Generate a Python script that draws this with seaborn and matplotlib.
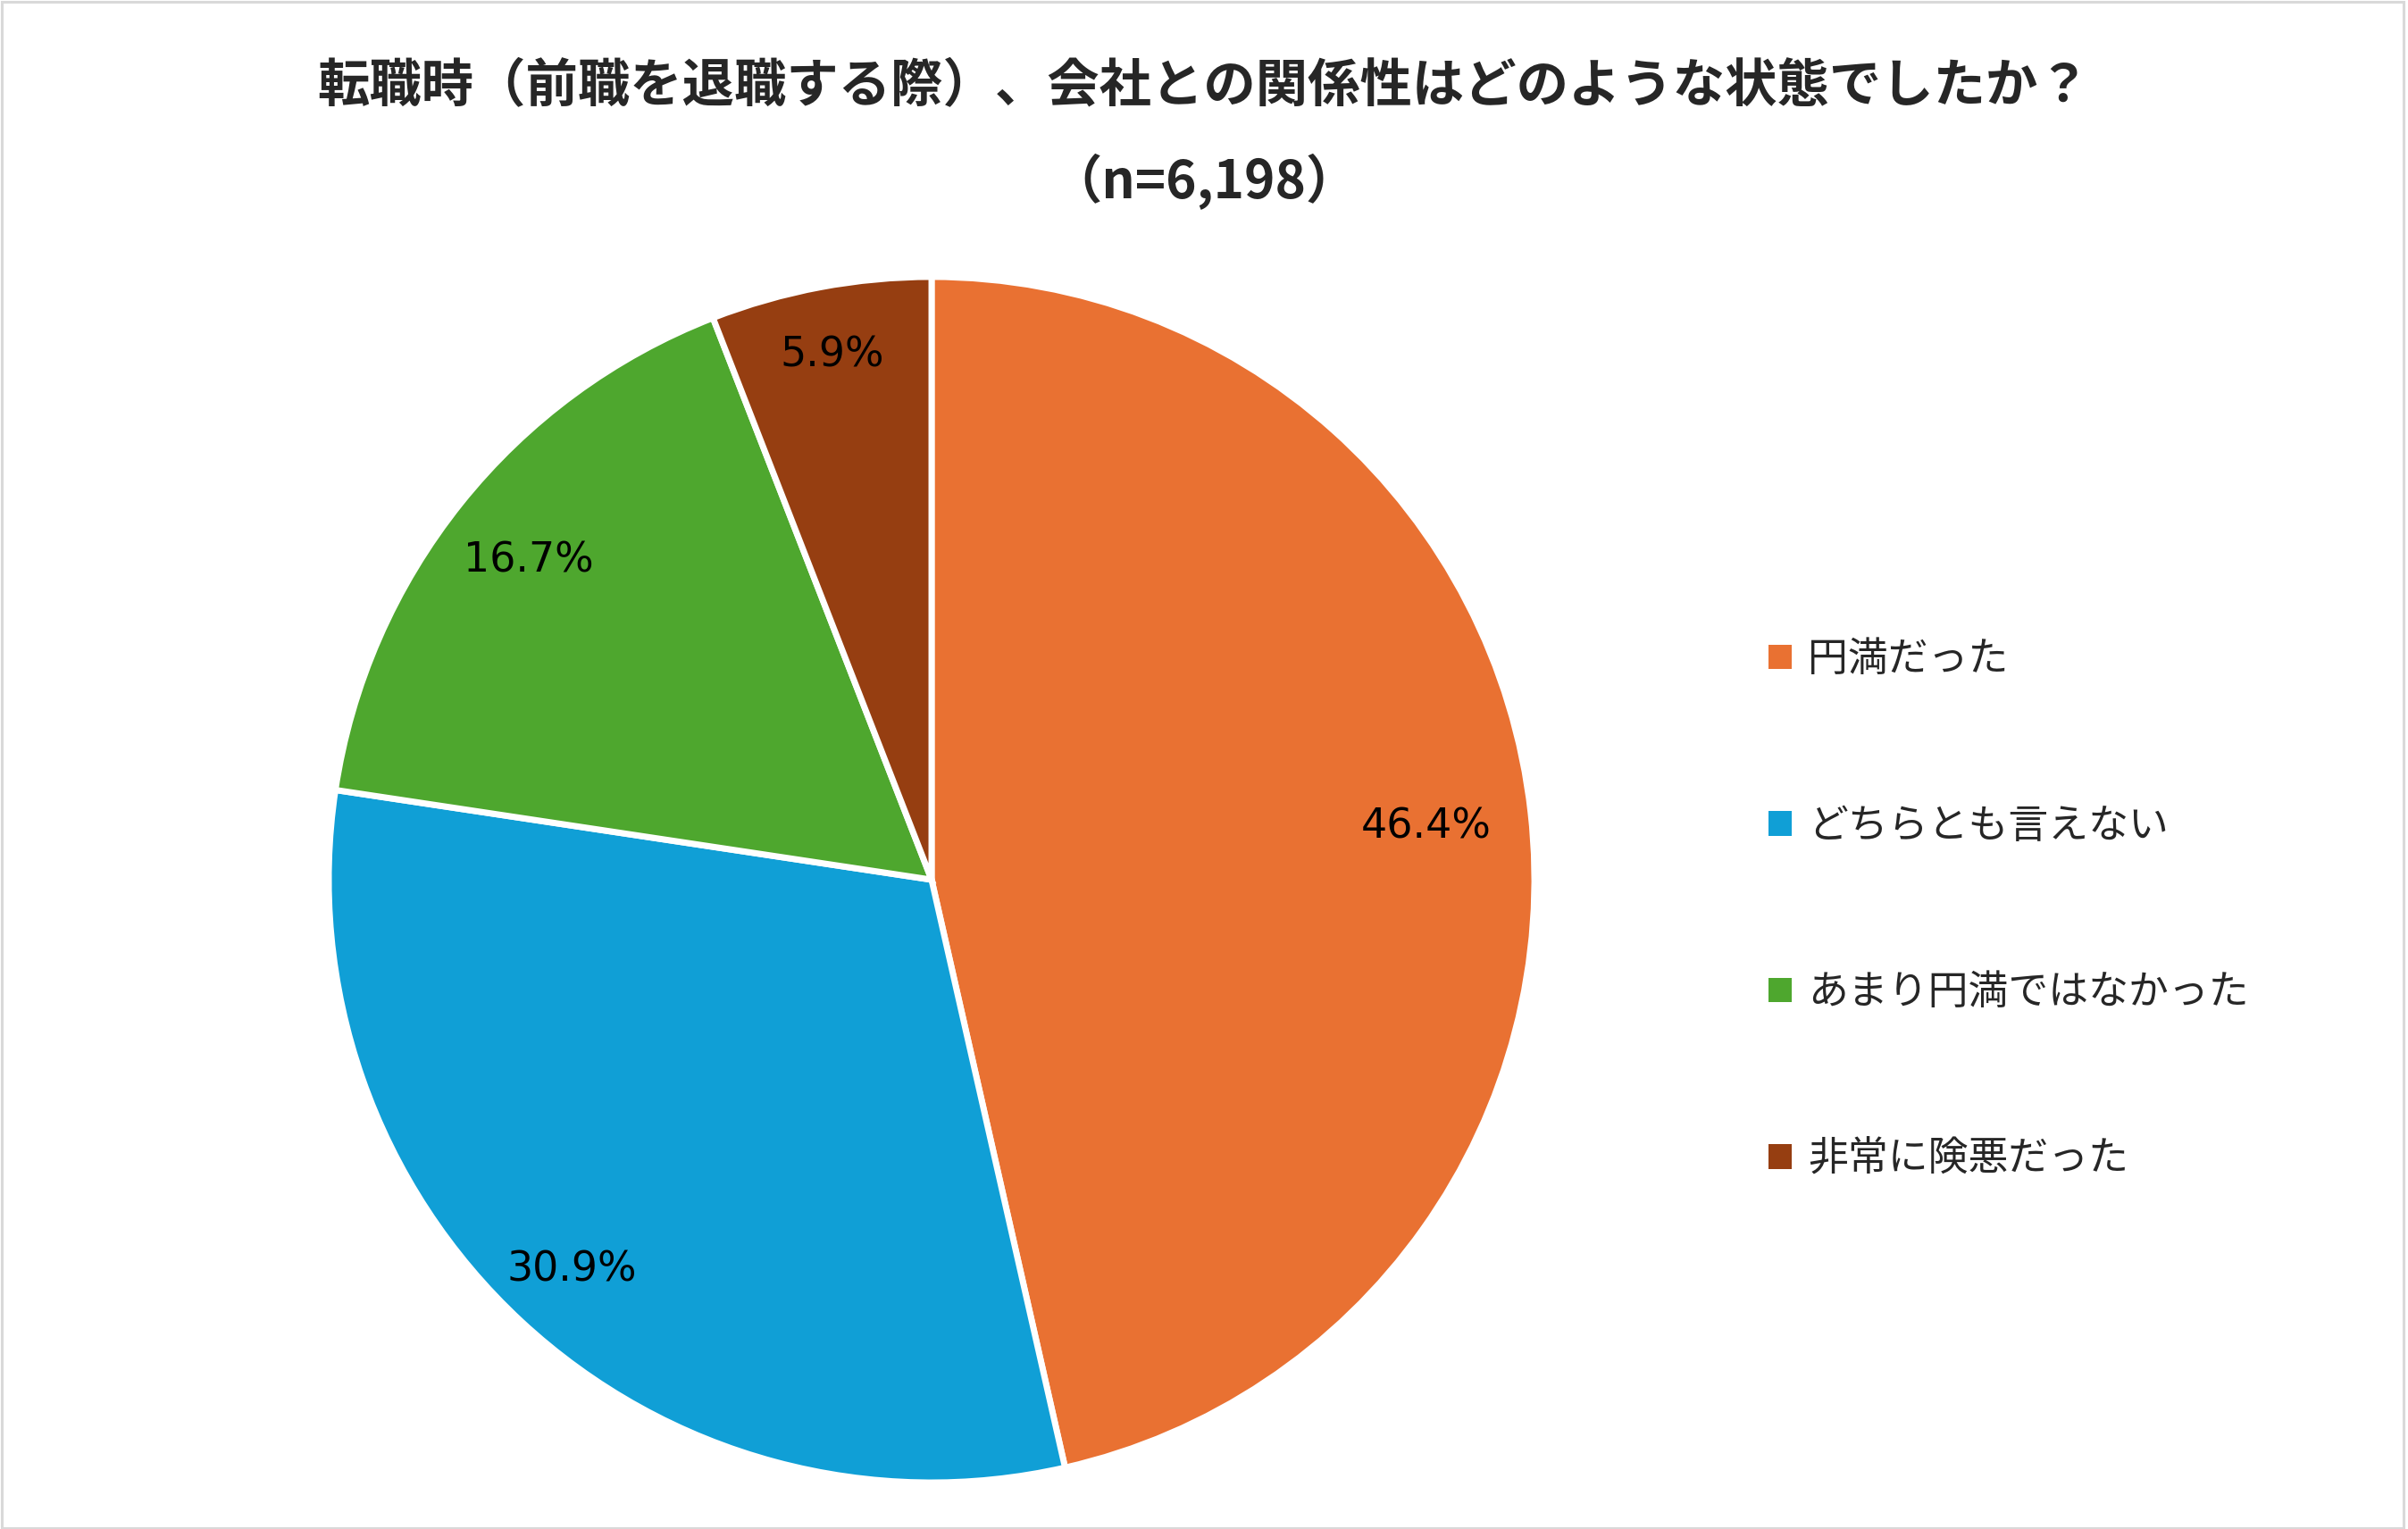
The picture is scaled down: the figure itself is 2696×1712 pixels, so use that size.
import numpy as np
import matplotlib
matplotlib.use("Agg")
import matplotlib.pyplot as plt
from matplotlib.patches import Rectangle
import seaborn as sns

# ---- data ----
categories = ["円満だった", "どちらとも言えない", "あまり円満ではなかった", "非常に険悪だった"]
values = [46.4, 30.9, 16.7, 5.9]
colors = ["#E97132", "#109FD6", "#4EA72E", "#963E11"]
title_line1 = "転職時（前職を退職する際）、会社との関係性はどのような状態でしたか？"
title_line2 = "（n=6,198）"
label_r = [0.825, 0.877, 0.856, 0.89]

sns.set_theme(style="white")
plt.rcParams["font.family"] = ["Noto Sans CJK JP", "DejaVu Sans"]

W, H = 2696, 1712
fig = plt.figure(figsize=(W / 100, H / 100), dpi=100)
fig.patch.set_facecolor("white")

cx, cy, R = 1043, 985, 675
ax = fig.add_axes([(cx - R) / W, (H - cy - R) / H, 2 * R / W, 2 * R / H])

palette = sns.color_palette(colors)
wedges, _ = ax.pie(values, colors=palette, startangle=90, counterclock=False,
                   wedgeprops=dict(edgecolor="white", linewidth=5),
                   radius=1.0)
ax.set_xlim(-1, 1)
ax.set_ylim(-1, 1)
ax.set_aspect("equal")
ax.axis("off")

for w, v, r in zip(wedges, values, label_r):
    ang = np.deg2rad((w.theta1 + w.theta2) / 2)
    ax.text(r * np.cos(ang), r * np.sin(ang) - 0.005, f"{v:.1f}%", ha="center", va="center",
            fontsize=33, family="DejaVu Sans", color="#000000")

leg = fig.legend(wedges, categories, loc="center left",
                 bbox_to_anchor=(1980 / W, 1 - 1018 / H), frameon=False,
                 fontsize=32.3, handlelength=0.57, handleheight=0.57,
                 handletextpad=0.42, labelspacing=3.13, borderpad=0,
                 borderaxespad=0)
for h in leg.legend_handles:
    h.set_edgecolor("none")

fig.text(0.5, 1 - 96 / H, title_line1, ha="center", va="center",
         fontsize=42, fontweight="bold")
fig.text(0.5, 1 - 204 / H, title_line2, ha="center", va="center",
         fontsize=42, fontweight="bold")

fig.patches.append(Rectangle((1.5 / W, 1.5 / H), (2690.5 - 1.5) / W, (1710.5 - 1.5) / H,
                             transform=fig.transFigure, fill=False,
                             edgecolor="#D9D9D9", linewidth=2.2, zorder=10))

fig.savefig("out.png", dpi=100, facecolor="white")
